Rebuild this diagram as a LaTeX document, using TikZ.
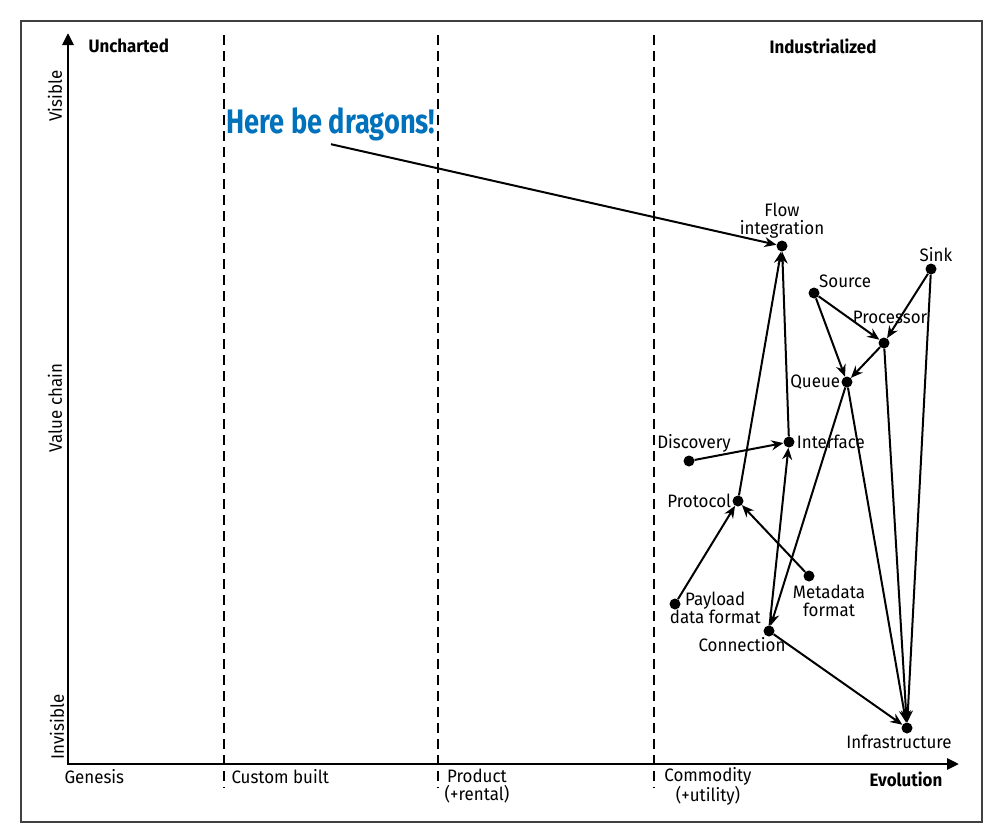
\documentclass[tikz,border=0pt]{standalone}
\usepackage{fontspec}
\setmainfont[FakeStretch=0.94]{Fira Sans}
\newfontfamily\dragonfont[FakeStretch=0.8]{Fira Sans}
\usetikzlibrary{positioning,arrows.meta}
\definecolor{dragonblue}{RGB}{0,114,187}

\begin{document}
\begin{tikzpicture}[x=1pt,y=-1pt,
  every node/.style={font=\fontsize{18}{18}\selectfont},
  heading/.style={font=\fontsize{18}{18}\selectfont\bfseries},
  mapdot/.style={circle,fill,inner sep=0pt,minimum size=11pt},
  lab/.style={align=center,inner sep=1pt},
  link/.style={->,line width=2pt},
  axisline/.style={{Triangle[length=12pt,width=11pt]}-{Triangle[length=12pt,width=11pt]},line width=2.8pt},
  divider/.style={line width=2.2pt,dash pattern=on 10pt off 6pt},
  >={Stealth[length=12pt,width=10pt]}]
\useasboundingbox (0,0) rectangle (997,836);
\draw[line width=1.2pt,black!75] (21,21) rectangle (982,822);
% evolution stages
\foreach \x in {224,438,654}
  \draw[divider] (\x,35) -- (\x,788);
\draw[axisline] (68,33) -- (68,764) -- (959,764);
% axis texts
\node[heading,anchor=west] (uncharted) at (85,46) {Uncharted};
\node[heading] (industrialized) at (823,46) {Industrialized};
\node[rotate=90] (visible) at (55,96) {Visible};
\node[rotate=90] (valuechain) at (55,408) {Value chain};
\node[rotate=90] (invisible) at (57,727) {Invisible};
\node[anchor=west] (genesis) at (61,777) {Genesis};
\node[anchor=west] (custom) at (228,777) {Custom built};
\node[lab] (product) at (477,786) {Product\\(+rental)};
\node[lab] (commodity) at (708,786) {Commodity\\(+utility)};
\node[heading] (evolution) at (906,779) {Evolution};
\node[font=\dragonfont\bfseries\fontsize{34}{36}\selectfont,text=dragonblue] (dragons) at (331,124) {Here be dragons!};
% components
\node[mapdot] (flow) at (782,246) {};
\node[mapdot] (sink) at (931,269) {};
\node[mapdot] (source) at (814,293) {};
\node[mapdot] (proc) at (884,343) {};
\node[mapdot] (queue) at (847,382) {};
\node[mapdot] (iface) at (789,442) {};
\node[mapdot] (disc) at (689,461) {};
\node[mapdot] (proto) at (738,501) {};
\node[mapdot] (meta) at (809,576) {};
\node[mapdot] (payload) at (675,604) {};
\node[mapdot] (conn) at (769,631) {};
\node[mapdot] (infra) at (907,728) {};
\node[lab,above=1pt of flow] (flowlab) {Flow\\integration};
\node[lab,above=0pt of sink,xshift=5pt] (sinklab) {Sink};
\node[lab,above right=0pt of source] (sourcelab) {Source};
\node[lab,above=12pt of proc,xshift=6pt] (proclab) {Processor};
\node[lab,left=0pt of queue] (queuelab) {Queue};
\node[lab,right=1pt of iface] (ifacelab) {Interface};
\node[lab,above=2pt of disc,xshift=5pt] (disclab) {Discovery};
\node[lab,left=0pt of proto] (protolab) {Protocol};
\node[lab,below=2pt of meta,xshift=20pt] (metalab) {Metadata\\format};
\node[lab,right=-12pt of payload,yshift=-4pt] (payloadlab) {Payload\\data format};
\node[lab,below=0pt of conn,xshift=-27pt] (connlab) {Connection};
\node[lab,below=0pt of infra,xshift=-8pt] (infralab) {Infrastructure};
% dependencies
\draw[link] (dragons.south) -- (flow);
\draw[link] (proto) -- (flow);
\draw[link] (iface) -- (flow);
\draw[link] (disc) -- (iface);
\draw[link] (conn) -- (iface);
\draw[link] (source) -- (proc);
\draw[link] (sink) -- (proc);
\draw[link] (source) -- (queue);
\draw[link] (proc) -- (queue);
\draw[link] (queue) -- (conn);
\draw[link] (queue) -- (infra);
\draw[link] (proc) -- (infra);
\draw[link] (sink) -- (infra);
\draw[link] (conn) -- (infra);
\draw[link] (payload) -- (proto);
\draw[link] (meta) -- (proto);
\end{tikzpicture}
\end{document}
